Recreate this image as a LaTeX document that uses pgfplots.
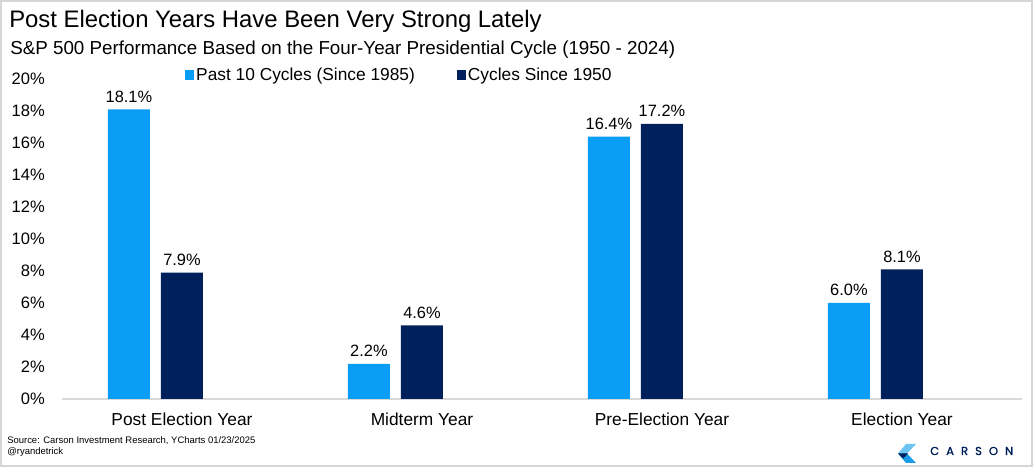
\documentclass[border=0pt]{standalone}
\usepackage{fontspec}
\setmainfont{Liberation Sans}
\newfontfamily\logofont{Poppins}[FakeBold=1.5]
\usepackage{pgfplots}
\pgfplotsset{compat=1.18}

\definecolor{lightbar}{RGB}{10,157,245}
\definecolor{darkbar}{RGB}{0,32,91}
\definecolor{framegray}{RGB}{214,214,214}
\definecolor{basegray}{RGB}{217,217,217}
\definecolor{logolight}{RGB}{110,197,243}
\definecolor{logomid}{RGB}{26,156,235}

\begin{document}
\begin{tikzpicture}
\begin{scope}[x=0.75pt,y=0.75pt]
  \path (0,0) rectangle (1033,467);
  \draw[framegray, line width=1.5pt] (1,1) rectangle (1032,466);
  \node[anchor=base west, inner sep=0pt, font=\fontsize{17.9}{20}\selectfont] at (9,439) {Post Election Years Have Been Very Strong Lately};
  \node[anchor=base west, inner sep=0pt, font=\fontsize{14.1}{16}\selectfont] at (10,412) {S\&P 500 Performance Based on the Four-Year Presidential Cycle (1950 - 2024)};
  \node[anchor=base west, inner sep=0pt, font=\fontsize{7.1}{8}\selectfont] at (7,23) {Source: Carson Investment Research, YCharts 01/23/2025};
  \node[anchor=base west, inner sep=0pt, font=\fontsize{7.1}{8}\selectfont] at (7,12) {@ryandetrick};
  % logo
  \fill[logolight] (906,23) -- (916,23) -- (907,13.5) -- (898,13.5) -- cycle;
  \fill[logomid] (898,13.5) -- (907,13.5) -- (916,4) -- (906,4) -- cycle;
  \fill[darkbar] (898,13.5) -- (908,13.5) -- (903,8.5) -- cycle;
  \node[anchor=base west, inner sep=0pt, text=darkbar, font=\logofont\fontsize{8.6}{10}\selectfont\addfontfeature{LetterSpace=62}] at (930,12) {CARSON};
\end{scope}

\begin{axis}[
  at={(46.5pt,51pt)}, anchor=south west,
  scale only axis, width=720pt, height=240pt,
  xmin=-0.5, xmax=3.5, ymin=0, ymax=20,
  xtick={0,1,2,3},
  xticklabels={Post Election Year, Midterm Year, Pre-Election Year, Election Year},
  ytick={0,2,...,20},
  yticklabel={\pgfmathprintnumber{\tick}\%},
  /pgf/number format/assume math mode=true,
  major tick length=0pt,
  axis x line*=bottom, axis y line*=left,
  x axis line style={draw=basegray, line width=1.1pt, -},
  y axis line style={draw=none},
  x tick label style={font=\fontsize{13}{15}\selectfont, inner sep=0pt, anchor=north, yshift=-10pt},
  y tick label style={font=\fontsize{12.4}{14}\selectfont, inner sep=0pt, anchor=east, xshift=-12.75pt},
  nodes near coords={\pgfmathprintnumber[fixed,fixed zerofill,precision=1]{\pgfplotspointmeta}\%},
  nodes near coords style={font=\fontsize{12.3}{14}\selectfont, anchor=south, inner sep=0pt, yshift=5pt, text=black},
  legend columns=2,
  legend style={at={(axis description cs:0.128,1.0125)}, anchor=west, draw=none, fill=none,
    inner sep=0pt, font=\fontsize{13}{15}\selectfont,
    nodes={inner sep=1.5pt},
    /tikz/every even column/.append style={column sep=30pt}},
  legend image code/.code={\fill[#1] (0pt,-3.4pt) rectangle (6.8pt,3.4pt);},
  clip=false,
]
\addplot[ybar, bar width=0.175, bar shift=-0.221, fill=lightbar, draw=none,
  every node near coord/.append style={xshift=-39.8pt}]
  coordinates {(0,18.1) (1,2.2) (2,16.4) (3,6.0)};
\addlegendentry{Past 10 Cycles (Since 1985)}
\addplot[ybar, bar width=0.175, bar shift=0, fill=darkbar, draw=none]
  coordinates {(0,7.9) (1,4.6) (2,17.2) (3,8.1)};
\addlegendentry{Cycles Since 1950}
\end{axis}
\end{tikzpicture}
\end{document}
